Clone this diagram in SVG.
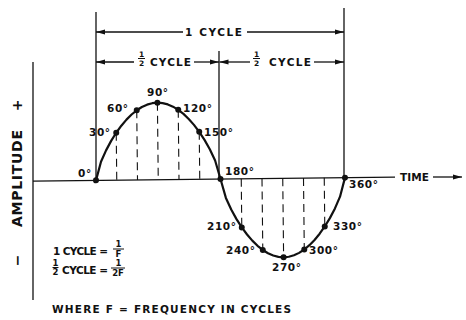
<svg xmlns="http://www.w3.org/2000/svg" width="466" height="320" viewBox="0 0 466 320">
<style>
.ln{stroke:#111;stroke-width:1.3;fill:none}
.crv{stroke:#111;stroke-width:2.2;fill:none;stroke-linejoin:round;stroke-linecap:round}
.dsh{stroke:#111;stroke-width:1.1;stroke-dasharray:8 5;fill:none}
.dot{fill:#111}
text{font-family:"DejaVu Sans","Liberation Sans",sans-serif;font-weight:bold;fill:#111}
.deg{font-size:10.5px;letter-spacing:0.6px}
.lab{font-size:10.5px;letter-spacing:1px}
.fr{font-size:7.5px;text-anchor:middle}
.fr2{font-size:8.5px;text-anchor:middle}
.ax{font-size:14px;letter-spacing:1px;text-anchor:middle}
</style>
<defs>
<marker id="ah" markerUnits="userSpaceOnUse" markerWidth="9" markerHeight="6" refX="9" refY="3" orient="auto">
<path d="M0,0.4 L9,3 L0,5.6 z" fill="#111"/>
</marker>
</defs>
<rect width="466" height="320" fill="#fff"/>

<g id="extension-lines">
<line class="ln" x1="33" y1="62" x2="33" y2="300"/>
<line class="ln" x1="96" y1="12" x2="96" y2="180"/>
<line class="ln" x1="219" y1="51" x2="219" y2="179"/>
<line class="ln" x1="344" y1="8" x2="344" y2="178"/>
</g>

<g id="plot" transform="rotate(-0.63 220 179)">
<line class="ln" x1="33" y1="179" x2="395" y2="179"/>
<g id="dashes">
<line class="dsh" x1="116.75" y1="131.6" x2="116.75" y2="179"/>
<line class="dsh" x1="137.5" y1="109.38" x2="137.5" y2="179"/>
<line class="dsh" x1="158.25" y1="102" x2="158.25" y2="179"/>
<line class="dsh" x1="179" y1="109.38" x2="179" y2="179"/>
<line class="dsh" x1="199.75" y1="131.6" x2="199.75" y2="179"/>
<line class="dsh" x1="241.25" y1="179" x2="241.25" y2="227.63"/>
<line class="dsh" x1="262" y1="179" x2="262" y2="250.43"/>
<line class="dsh" x1="282.75" y1="179" x2="282.75" y2="258"/>
<line class="dsh" x1="303.5" y1="179" x2="303.5" y2="250.43"/>
<line class="dsh" x1="324.25" y1="179" x2="324.25" y2="227.63"/>
</g>
<polyline id="wave" class="crv" points="96,179 101.19,160.49 106.38,149.12 111.56,139.69 116.75,131.6 121.94,124.6 127.13,118.59 132.31,113.52 137.5,109.38 142.69,106.15 147.88,103.85 153.06,102.46 158.25,102 163.44,102.46 168.63,103.85 173.81,106.15 179,109.38 184.19,113.52 189.38,118.59 194.56,124.6 199.75,131.6 204.94,139.69 210.13,149.12 215.31,160.49 220.5,179 225.69,197.99 230.88,209.65 236.06,219.33 241.25,227.63 246.44,234.81 251.63,240.98 256.81,246.18 262,250.43 267.19,253.74 272.38,256.1 277.56,257.53 282.75,258 287.94,257.53 293.13,256.1 298.31,253.74 303.5,250.43 308.69,246.18 313.88,240.98 319.06,234.81 324.25,227.63 329.44,219.33 334.63,209.65 339.81,197.99 345,179"/>
<g id="points">
<circle class="dot" cx="96" cy="179" r="3"/>
<circle class="dot" cx="116.75" cy="131.6" r="3"/>
<circle class="dot" cx="137.5" cy="109.38" r="3"/>
<circle class="dot" cx="158.25" cy="102" r="3"/>
<circle class="dot" cx="179" cy="109.38" r="3"/>
<circle class="dot" cx="199.75" cy="131.6" r="3"/>
<circle class="dot" cx="220.5" cy="179" r="3"/>
<circle class="dot" cx="241.25" cy="227.63" r="3"/>
<circle class="dot" cx="262" cy="250.43" r="3"/>
<circle class="dot" cx="282.75" cy="258" r="3"/>
<circle class="dot" cx="303.5" cy="250.43" r="3"/>
<circle class="dot" cx="324.25" cy="227.63" r="3"/>
<circle class="dot" cx="345" cy="179" r="3"/>
</g>
</g>

<g id="degree-labels" class="deg">
<text x="78" y="177">0°</text>
<text x="89" y="136">30°</text>
<text x="107" y="112">60°</text>
<text x="147" y="96">90°</text>
<text x="183" y="112">120°</text>
<text x="204" y="136">150°</text>
<text x="225" y="175">180°</text>
<text x="207" y="230">210°</text>
<text x="226" y="254">240°</text>
<text x="272" y="271">270°</text>
<text x="309" y="254">300°</text>
<text x="333" y="230">330°</text>
<text x="349" y="188">360°</text>
</g>

<g id="connectors">
<line class="ln" x1="183" y1="32" x2="96" y2="32" marker-end="url(#ah)"/>
<line class="ln" x1="247" y1="32" x2="344" y2="32" marker-end="url(#ah)"/>
<line class="ln" x1="134" y1="62" x2="96" y2="62" marker-end="url(#ah)"/>
<line class="ln" x1="194" y1="62" x2="219" y2="62" marker-end="url(#ah)"/>
<line class="ln" x1="250" y1="62" x2="219.5" y2="62" marker-end="url(#ah)"/>
<line class="ln" x1="314" y1="62" x2="344" y2="62" marker-end="url(#ah)"/>
<line class="ln" x1="433" y1="177" x2="462" y2="177" marker-end="url(#ah)"/>
</g>

<g id="cycle-labels">
<text class="lab" x="185" y="36" textLength="58" lengthAdjust="spacing">1 CYCLE</text>
<text class="fr" x="141.5" y="57">1</text>
<line x1="138" y1="58.5" x2="145" y2="58.5" stroke="#111" stroke-width="1"/>
<text class="fr" x="141.5" y="66">2</text>
<text class="lab" x="150" y="66" textLength="42" lengthAdjust="spacing">CYCLE</text>
<text class="fr" x="256.5" y="57">1</text>
<line x1="253" y1="58.5" x2="260" y2="58.5" stroke="#111" stroke-width="1"/>
<text class="fr" x="256.5" y="66">2</text>
<text class="lab" x="269" y="66" textLength="43" lengthAdjust="spacing">CYCLE</text>
<text class="lab" x="400" y="181" textLength="30" lengthAdjust="spacing">TIME</text>
</g>

<g id="amplitude-label">
<text class="ax" transform="translate(21.5,105) rotate(-90)">+</text>
<text class="ax" transform="translate(21.5,178) rotate(-90)" textLength="98" lengthAdjust="spacing">AMPLITUDE</text>
<text class="ax" transform="translate(21.5,260) rotate(-90)">−</text>
</g>

<g id="formulas">
<text class="lab" x="53" y="255" textLength="56" lengthAdjust="spacing">1 CYCLE =</text>
<text class="fr2" x="118.5" y="247">1</text>
<line x1="113" y1="249" x2="124" y2="249" stroke="#111" stroke-width="1"/>
<text class="fr2" x="118.5" y="257">F</text>
<text class="fr2" x="55.5" y="266">1</text>
<line x1="52.5" y1="267.5" x2="58.5" y2="267.5" stroke="#111" stroke-width="1"/>
<text class="fr2" x="55.5" y="275">2</text>
<text class="lab" x="62" y="274" textLength="47" lengthAdjust="spacing">CYCLE =</text>
<text class="fr2" x="118.5" y="266">1</text>
<line x1="111" y1="268" x2="125" y2="268" stroke="#111" stroke-width="1"/>
<text class="fr2" x="118" y="276">2F</text>
<text class="lab" x="52" y="313" textLength="240" lengthAdjust="spacing">WHERE F = FREQUENCY IN CYCLES</text>
</g>
</svg>
